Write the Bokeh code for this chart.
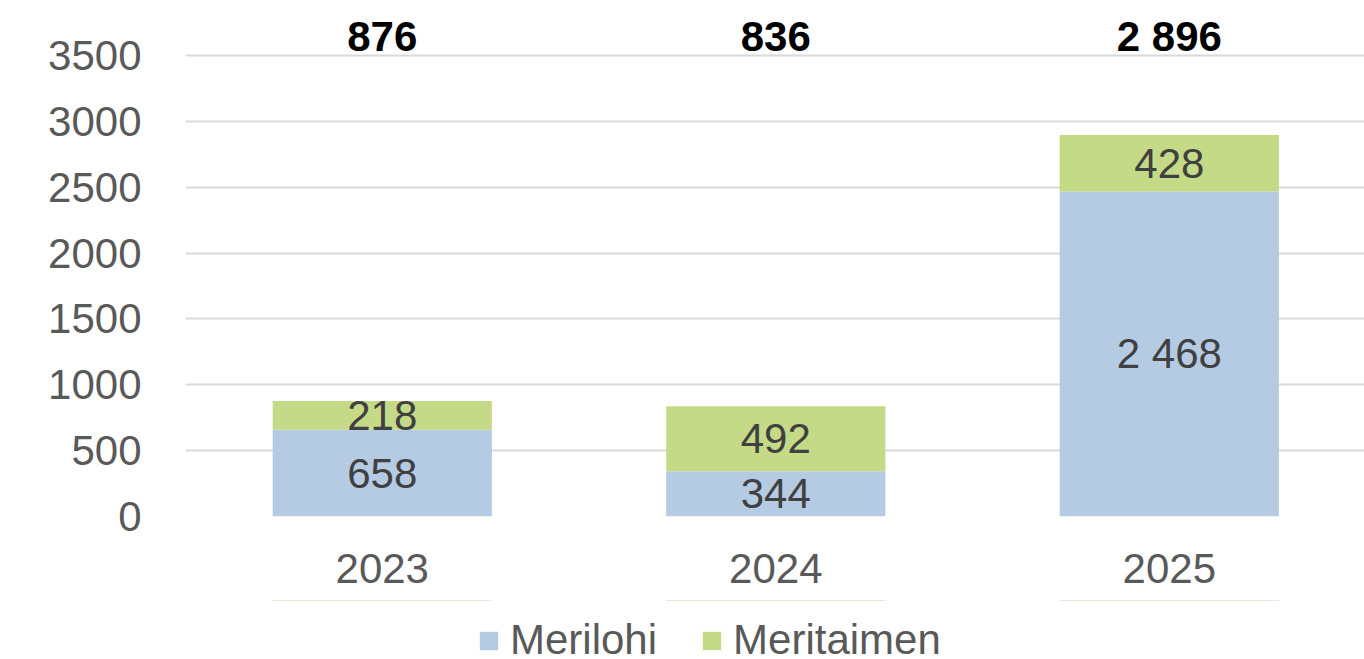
from bokeh.plotting import figure
from bokeh.layouts import column
from bokeh.models import ColumnDataSource, Range1d, FixedTicker, Legend, LegendItem
from bokeh.core.properties import value
from bokeh.embed import file_html
from bokeh.resources import INLINE

# ---- data ----
years = ["2023", "2024", "2025"]
merilohi = [658, 344, 2468]
meritaimen = [218, 492, 428]
totals = [876, 836, 2896]
y_ticks = [0, 500, 1000, 1500, 2000, 2500, 3000, 3500]
series_names = ["Merilohi", "Meritaimen"]

# ---- style ----
FONT = "Liberation Sans"
FS = "42px"
C_LOHI = "#B4CBE3"
C_TAIMEN = "#C5DA86"
TOTAL_ROW_Y = 3640  # fixed row for total labels (layout)


def fmt(v):
    return f"{v:,}".replace(",", " ")


idx = list(range(len(years)))
src = ColumnDataSource(dict(
    x=idx,
    merilohi=merilohi,
    meritaimen=meritaimen,
))

p = figure(frame_width=1179, frame_height=516,
           x_range=Range1d(-0.5, 2.496), y_range=Range1d(0, 3917),
           output_backend="svg", toolbar_location=None,
           min_border_left=185, min_border_right=0,
           min_border_top=0, min_border_bottom=84)
p.outline_line_color = None
p.background_fill_color = "white"
p.border_fill_color = "white"

rs = p.vbar_stack(["merilohi", "meritaimen"], x="x", width=0.557,
                  color=[C_LOHI, C_TAIMEN], line_color=None, source=src)

# segment labels
lohi_mid = [m / 2 for m in merilohi]
taimen_mid = [m + t / 2 for m, t in zip(merilohi, meritaimen)]
p.text(x=idx + idx, y=lohi_mid + taimen_mid,
       text=[fmt(v) for v in merilohi] + [fmt(v) for v in meritaimen],
       text_font=value(FONT), text_font_size=FS, text_color="#404040",
       text_align="center", text_baseline="middle")

# totals
p.text(x=idx, y=[TOTAL_ROW_Y] * len(idx), text=[fmt(v) for v in totals],
       text_font=value(FONT), text_font_size=FS, text_font_style="bold",
       text_color="#000000", text_align="center", text_baseline="middle")

# axes
p.yaxis.ticker = FixedTicker(ticks=y_ticks)
p.yaxis.axis_line_color = None
p.yaxis.major_tick_line_color = None
p.yaxis.minor_tick_line_color = None
p.yaxis.major_label_text_font = FONT
p.yaxis.major_label_text_font_size = FS
p.yaxis.major_label_text_color = "#595959"
p.yaxis.major_label_standoff = 38

p.xaxis.ticker = FixedTicker(ticks=idx)
p.xaxis.major_label_overrides = {i: y for i, y in zip(idx, years)}
p.xaxis.axis_line_color = None
p.xaxis.major_tick_line_color = None
p.xaxis.minor_tick_line_color = None
p.xaxis.major_label_text_font = FONT
p.xaxis.major_label_text_font_size = FS
p.xaxis.major_label_text_color = "#595959"
p.xaxis.major_label_standoff = 31

p.xgrid.grid_line_color = None
p.ygrid.ticker = FixedTicker(ticks=y_ticks)
p.ygrid.grid_line_color = "#D9D9D9"
p.ygrid.grid_line_width = 2

# ---- legend strip (separate figure under the chart) ----
# the series bars are drawn here far outside the visible range, only to
# feed the legend swatches
lg = figure(width=1364, height=58, x_range=Range1d(-0.5, 2.496),
            y_range=Range1d(-100000, -99999),
            x_axis_type=None, y_axis_type=None,
            output_backend="svg", toolbar_location=None, min_border=0)
lg.outline_line_color = None
lg.xgrid.grid_line_color = None
lg.ygrid.grid_line_color = None
ks = lg.vbar_stack(["merilohi", "meritaimen"], x="x", width=0.557,
                   color=[C_LOHI, C_TAIMEN], line_color=None, source=src)
legend = Legend(items=[LegendItem(label=series_names[0], renderers=[ks[0]]),
                       LegendItem(label=series_names[1], renderers=[ks[1]])],
                orientation="horizontal", location=(292, -6),
                label_text_font=FONT, label_text_font_size=FS,
                label_text_color="#595959",
                glyph_width=23, glyph_height=23, label_standoff=10,
                spacing=43, padding=0, margin=0,
                border_line_color=None, background_fill_alpha=0)
lg.add_layout(legend)

layout = column(p, lg, spacing=0)
open("out.html", "w").write(file_html(layout, INLINE))
